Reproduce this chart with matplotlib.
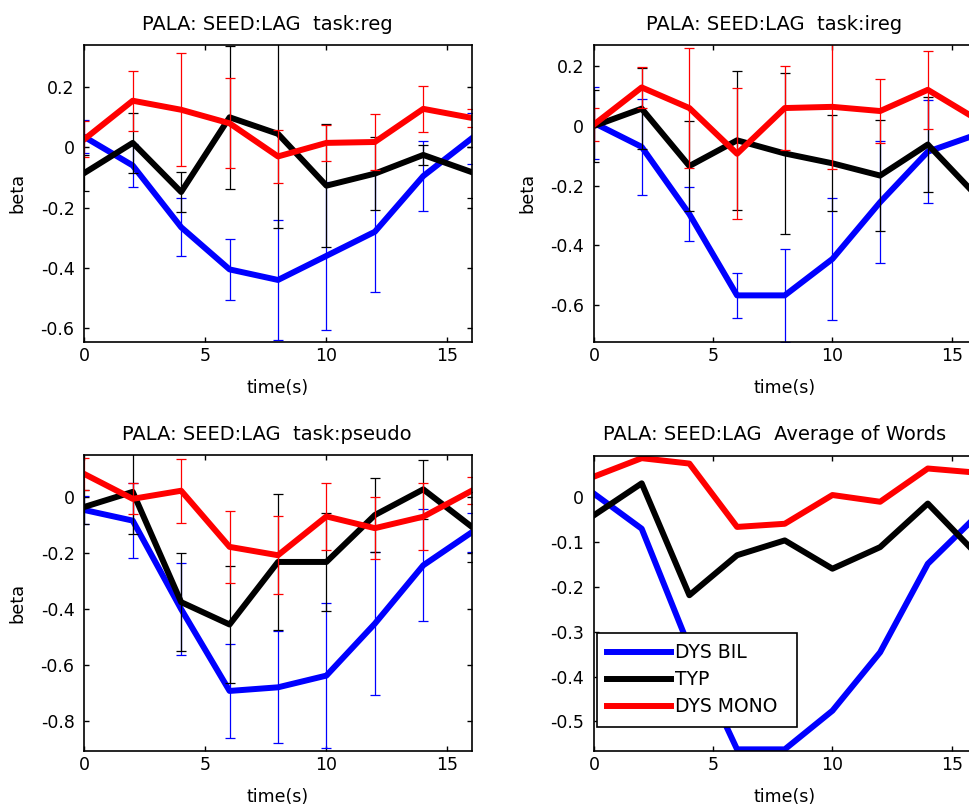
import matplotlib
matplotlib.use("Agg")
import matplotlib.pyplot as plt

plt.rcParams['font.family'] = ['DejaVu Sans']

# time points (s)
t = [0, 2, 4, 6, 8, 10, 12, 14, 16]
groups = ['DYS BIL', 'TYP', 'DYS MONO']
colors = ['#0000ff', '#000000', '#ff0000']

# task:reg
reg_bil = [0.035, -0.06, -0.265, -0.405, -0.44, -0.36, -0.28, -0.095, 0.03]
reg_bil_err = [0.055, 0.07, 0.097, 0.102, 0.2, 0.245, 0.2, 0.116, 0.085]
reg_typ = [-0.085, 0.015, -0.148, 0.1, 0.045, -0.127, -0.087, -0.025, -0.082]
reg_typ_err = [0.06, 0.1, 0.066, 0.238, 0.313, 0.205, 0.12, 0.033, 0.085]
reg_mono = [0.027, 0.155, 0.125, 0.08, -0.03, 0.015, 0.018, 0.128, 0.098]
reg_mono_err = [0.06, 0.1, 0.187, 0.15, 0.087, 0.06, 0.094, 0.076, 0.03]

# task:ireg
ireg_bil = [0.01, -0.07, -0.295, -0.567, -0.567, -0.445, -0.255, -0.086, -0.03]
ireg_bil_err = [0.12, 0.16, 0.09, 0.075, 0.155, 0.205, 0.205, 0.173, 0.1]
ireg_typ = [0.0, 0.058, -0.134, -0.048, -0.092, -0.125, -0.166, -0.062, -0.23]
ireg_typ_err = [0.12, 0.135, 0.15, 0.232, 0.27, 0.161, 0.187, 0.158, 0.12]
ireg_mono = [0.005, 0.129, 0.06, -0.093, 0.06, 0.064, 0.05, 0.121, 0.025]
ireg_mono_err = [0.055, 0.07, 0.2, 0.22, 0.14, 0.209, 0.108, 0.131, 0.08]

# task:pseudo
pseudo_bil = [-0.045, -0.083, -0.4, -0.693, -0.68, -0.638, -0.452, -0.243, -0.125]
pseudo_bil_err = [0.049, 0.135, 0.166, 0.168, 0.2, 0.26, 0.257, 0.2, 0.07]
pseudo_typ = [-0.034, 0.02, -0.375, -0.455, -0.231, -0.231, -0.063, 0.029, -0.105]
pseudo_typ_err = [0.06, 0.152, 0.176, 0.21, 0.245, 0.176, 0.134, 0.105, 0.126]
pseudo_mono = [0.084, -0.005, 0.024, -0.177, -0.207, -0.068, -0.11, -0.069, 0.024]
pseudo_mono_err = [0.058, 0.055, 0.115, 0.128, 0.14, 0.12, 0.112, 0.12, 0.048]

# Average of Words (no error bars)
words_bil = [0.007, -0.071, -0.335, -0.562, -0.562, -0.476, -0.346, -0.149, -0.045]
words_typ = [-0.041, 0.03, -0.219, -0.13, -0.097, -0.16, -0.112, -0.015, -0.125]
words_mono = [0.045, 0.086, 0.074, -0.067, -0.06, 0.004, -0.011, 0.063, 0.054]

W, H = 969, 809
fig = plt.figure(figsize=(W / 100, H / 100), dpi=100)


def px_axes(x0, x1, y0, y1):
    # pixel box (top-left origin) -> figure fraction
    return fig.add_axes([x0 / W, (H - y1) / H, (x1 - x0) / W, (y1 - y0) / H])


def panel(ax, title, series, errs, ylim, yticks, yticklabels):
    for k, (y, c) in enumerate(zip(series, colors)):
        if errs is not None:
            ax.errorbar(t, y, yerr=errs[k], fmt='none', ecolor=c,
                        elinewidth=0.9, capsize=3.6, capthick=0.9)
        ax.plot(t, y, color=c, lw=4.3, label=groups[k])
    ax.set_xlim(0, 16)
    ax.set_ylim(*ylim)
    ax.set_xticks([0, 5, 10, 15])
    ax.set_yticks(yticks)
    ax.set_yticklabels(yticklabels)
    ax.tick_params(direction='in', top=True, right=True, length=3.5,
                   width=1, labelsize=12.5)
    ax.tick_params(axis='x', pad=4)
    ax.tick_params(axis='y', pad=7)
    for s in ax.spines.values():
        s.set_linewidth(1.2)
    ax.set_title(title, fontsize=14, pad=11, x=0.472)
    ax.set_xlabel('time(s)', fontsize=12.5, labelpad=10)
    ax.set_ylabel('beta', fontsize=12.8, labelpad=10)


ax1 = px_axes(84.3, 471.7, 45, 341.7)
panel(ax1, 'PALA: SEED:LAG  task:reg', [reg_bil, reg_typ, reg_mono],
      [reg_bil_err, reg_typ_err, reg_mono_err], (-0.645, 0.34),
      [-0.6, -0.4, -0.2, 0, 0.2], ['-0.6', '-0.4', '-0.2', '0', '0.2'])

ax2 = px_axes(594, 975.5, 45, 341.7)
panel(ax2, 'PALA: SEED:LAG  task:ireg', [ireg_bil, ireg_typ, ireg_mono],
      [ireg_bil_err, ireg_typ_err, ireg_mono_err], (-0.722, 0.271),
      [-0.6, -0.4, -0.2, 0, 0.2], ['-0.6', '-0.4', '-0.2', '0', '0.2'])

ax3 = px_axes(84.3, 471.7, 455, 750.7)
panel(ax3, 'PALA: SEED:LAG  task:pseudo', [pseudo_bil, pseudo_typ, pseudo_mono],
      [pseudo_bil_err, pseudo_typ_err, pseudo_mono_err], (-0.907, 0.152),
      [-0.8, -0.6, -0.4, -0.2, 0], ['-0.8', '-0.6', '-0.4', '-0.2', '0'])

ax4 = px_axes(594, 975.5, 455.7, 750.7)
panel(ax4, 'PALA: SEED:LAG  Average of Words', [words_bil, words_typ, words_mono],
      None, (-0.565, 0.0915),
      [-0.5, -0.4, -0.3, -0.2, -0.1, 0], ['-0.5', '-0.4', '-0.3', '-0.2', '-0.1', '0'])
ax4.set_ylabel('')
leg = ax4.legend(loc='lower left', bbox_to_anchor=(0.008, 0.082, 0.525, 0.3),
                 mode='expand', borderaxespad=0,
                 fontsize=13.5, frameon=True, fancybox=False, framealpha=1,
                 edgecolor='black', handlelength=3.4, handletextpad=0.2,
                 labelspacing=0.42, borderpad=0.55)
leg.get_frame().set_linewidth(1.2)

fig.savefig('out.png', dpi=100)
